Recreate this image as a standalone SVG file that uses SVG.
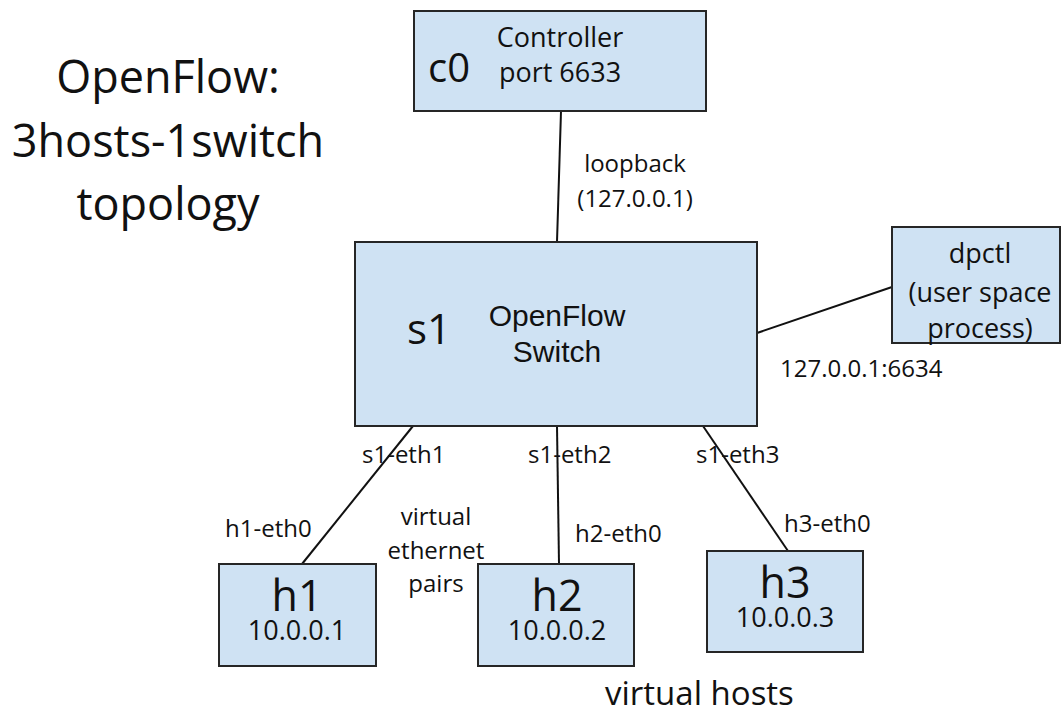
<svg xmlns="http://www.w3.org/2000/svg" width="1061" height="713" viewBox="0 0 1061 713">
<style>
.box{fill:#cfe2f3;stroke:#262626;stroke-width:2}
.ln{stroke:#111;stroke-width:2;fill:none}
text{font-family:"Open Sans","Noto Sans",sans-serif;fill:#111}
.arial{font-family:"Liberation Sans",Arial,sans-serif}
.lbl{font-size:24px}
.mid{text-anchor:middle}
</style>
<rect width="1061" height="713" fill="#fff"/>
<g id="title">
<text class="mid" x="168" y="93" font-size="45">OpenFlow:</text>
<text class="mid" x="168" y="157" font-size="45">3hosts-1switch</text>
<text class="mid" x="168" y="220" font-size="45">topology</text>
</g>
<g id="connectors">
<line class="ln" x1="561" y1="111" x2="557" y2="242"/>
<line class="ln" x1="757" y1="333" x2="892" y2="287"/>
<line class="ln" x1="413" y1="426" x2="302" y2="564"/>
<line class="ln" x1="557" y1="426" x2="559" y2="564"/>
<line class="ln" x1="703" y1="426" x2="788" y2="551"/>
<text class="lbl mid" x="635" y="172" font-size="23">loopback</text>
<text class="lbl mid" x="635" y="207" font-size="23">(127.0.0.1)</text>
<text class="lbl" x="780" y="377">127.0.0.1:6634</text>
<text class="lbl" x="362" y="463">s1-eth1</text>
<text class="lbl" x="528" y="463">s1-eth2</text>
<text class="lbl" x="696" y="463">s1-eth3</text>
<text class="lbl" x="225" y="537">h1-eth0</text>
<text class="lbl" x="575" y="542">h2-eth0</text>
<text class="lbl" x="784" y="532">h3-eth0</text>
<text class="lbl mid" x="436" y="525">virtual</text>
<text class="lbl mid" x="436" y="559">ethernet</text>
<text class="lbl mid" x="436" y="592">pairs</text>
</g>
<g id="c0">
<rect class="box" x="414" y="11" width="292" height="100"/>
<text x="428" y="82" font-size="40">c0</text>
<text class="mid" x="560" y="47" font-size="27">Controller</text>
<text class="mid" x="560" y="82" font-size="27">port 6633</text>
</g>
<g id="s1">
<rect class="box" x="355" y="242" width="402" height="184"/>
<text x="407" y="344" font-size="42">s1</text>
<text class="arial mid" x="557" y="326" font-size="30">OpenFlow</text>
<text class="arial mid" x="557" y="362" font-size="30">Switch</text>
</g>
<g id="dpctl">
<rect class="box" x="892" y="227" width="168" height="116"/>
<text class="mid" x="980" y="263" font-size="27">dpctl</text>
<text class="mid" x="980" y="302" font-size="27">(user space</text>
<text class="mid" x="980" y="338" font-size="27">process)</text>
</g>
<g id="h1">
<rect class="box" x="219" y="564" width="157" height="102"/>
<text class="mid" x="297" y="611" font-size="43">h1</text>
<text class="mid" x="297" y="640" font-size="27">10.0.0.1</text>
</g>
<g id="h2">
<rect class="box" x="478" y="564" width="156" height="102"/>
<text class="mid" x="557" y="611" font-size="43">h2</text>
<text class="mid" x="557" y="640" font-size="27">10.0.0.2</text>
</g>
<g id="h3">
<rect class="box" x="707" y="551" width="156" height="101"/>
<text class="mid" x="785" y="598" font-size="43">h3</text>
<text class="mid" x="785" y="627" font-size="27">10.0.0.3</text>
</g>
<g id="footer">
<text x="605" y="705" font-size="33">virtual hosts</text>
</g>
</svg>
